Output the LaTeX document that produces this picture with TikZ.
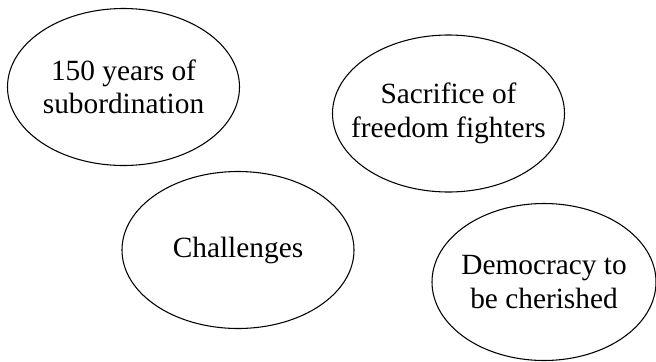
\documentclass[tikz,border=0pt]{standalone}
\usepackage{fontspec}
\setmainfont{Liberation Serif}
\usetikzlibrary{shapes.geometric}
\tikzset{>=latex,
  bubble/.style={ellipse, draw, line width=0.8pt, minimum width=174pt, minimum height=117.75pt,
    inner xsep=-25pt, inner ysep=0pt, align=center, font=\fontsize{22}{25}\selectfont}}

\begin{document}
\begin{tikzpicture}[x=0.75pt, y=-0.75pt]
\useasboundingbox (0,0) rectangle (656,361);
\node [bubble] (subord) at (123.5,87) {150 years of\\subordination};
\node [bubble] (sacrifice) at (448.5,113.5) {Sacrifice of\\freedom fighters};
\node [bubble] (challenge) at (238,250) {Challenges};
\node [bubble, minimum width=168pt] (democracy) at (544,282) {Democracy to\\be cherished};
\end{tikzpicture}
\end{document}
